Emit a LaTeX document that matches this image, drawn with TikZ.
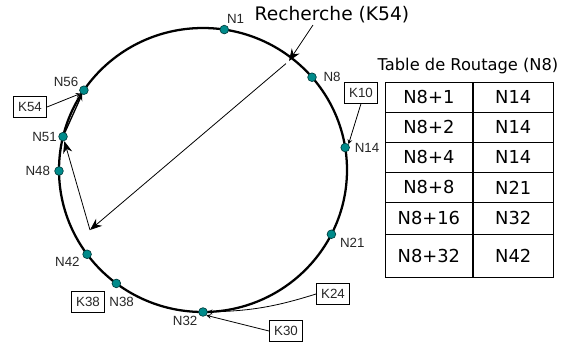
\documentclass[tikz,border=0pt]{standalone}
\usepackage{fontspec}
\setmainfont{DejaVu Sans}
\newfontfamily\arialfont{Liberation Sans}
\usepackage{tikz}
\usetikzlibrary{arrows,arrows.meta,positioning,calc}
\definecolor{ringteal}{RGB}{0,139,139}

\begin{document}
\begin{tikzpicture}[x=0.75pt, y=-0.75pt, >=stealth]
    \tikzset{
        dot/.style={circle, draw=black!55!ringteal, fill=ringteal, line width=0.5pt, minimum size=6.5pt, inner sep=0pt},
        lbl/.style={font=\arialfont\fontsize{10}{11}\selectfont, text=black!85, inner sep=1pt},
        keybox/.style={draw, line width=0.5pt, minimum width=25pt, minimum height=15.5pt, inner sep=1pt, font=\arialfont\fontsize{10}{11}\selectfont, text=black!85},
        cell/.style={draw, line width=0.6pt, anchor=north west, inner sep=0pt, font=\fontsize{13.4}{15}\selectfont},
        ring/.style={line width=1.7pt},
        line/.style={draw, ->, line width=0.6pt},
        bigline/.style={draw, -{Stealth[length=9pt, width=7pt]}, line width=0.6pt}
    }
    \useasboundingbox (0,0) rectangle (568,347);

    % Ring
    \coordinate (c) at (203,170);
    \draw[ring] (c) ellipse [x radius=144, y radius=142];
    \foreach \n/\a/\p/\d/\s in {N1/-81.5/75/0pt/0pt, N8/-40.8/0/4pt/0pt, N14/-9.1/0/2.5pt/0pt, N21/26.9/-15/2pt/0pt,
                               N32/90/210/0pt/0pt, N38/127/-90/6pt/4pt, N42/143.6/190/1pt/0pt, N48/179.6/180/2pt/0pt,
                               N51/193.6/180/0pt/0pt, N56/214.2/150/0pt/0pt}
        \node[dot, label={[lbl, label distance=\d, xshift=\s]\p:\n}] (\n) at ($(c)+(\a:144 and 142)$) {};

    % Keys
    \node[keybox] (K54) at (30,107) {K54};
    \node[keybox] (K10) at (361,93) {K10};
    \node[keybox] (K24) at (333,294) {K24};
    \node[keybox] (K30) at (286,331) {K30};
    \node[keybox] (K38) at (88,302) {K38};

    \draw[line] (K54.east) -- (N56.south west);
    \draw[line] (K10.south) -- (N14.north east);
    \draw[line] (K24.west) to[bend left=8] (N32.east);
    \draw[line] (K30.west) -- (N32.south east);

    % Lookup
    \node[font=\fontsize{14}{16}\selectfont] (search) at (332,15) {Recherche (K54)};
    \coordinate (src) at (313,25);
    \coordinate (hit) at (289,61);
    \coordinate (turn) at (90,230);
    \draw[bigline] (src) -- (hit);
    \draw[bigline, shorten <=3pt] (hit) -- (turn);
    \draw[bigline] (turn) -- (N51);
    \draw[line, line width=1pt] (N51) -- (N56);

    % Routing table
    \node[font=\fontsize{12.2}{14}\selectfont] (title) at (468,66) {Table de Routage (N8)};
    \foreach \r/\y/\h/\a/\b in {1/82/22.5pt/1/14, 2/112/22.5pt/2/14, 3/142/22.5pt/4/14,
                                4/172/22.5pt/8/21, 5/202/24pt/16/32, 6/234/32.25pt/32/42} {
        \node[cell, minimum width=65.25pt, minimum height=\h] (l\r) at (385,\y) {N8+\a};
        \node[cell, minimum width=60pt, minimum height=\h] (r\r) at (l\r.north east) {N\b};
    }
\end{tikzpicture}
\end{document}
